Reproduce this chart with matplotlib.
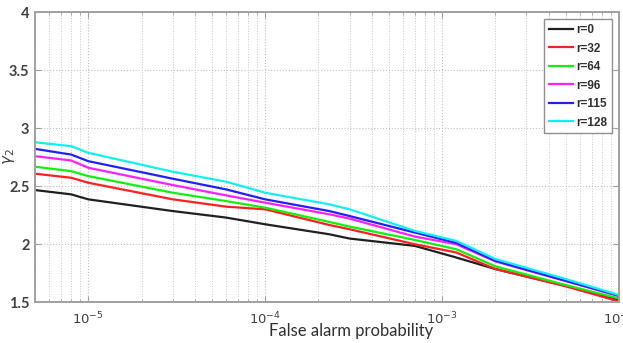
import matplotlib
matplotlib.use("Agg")
import matplotlib.pyplot as plt
from matplotlib.ticker import LogLocator, FixedLocator, NullFormatter

# False alarm probability (x) sample points
pfa = [5e-6, 8e-6, 1e-5, 3e-5, 6e-5, 1e-4, 2.3e-4, 3e-4, 7e-4, 1.2e-3, 2e-3, 5e-3, 1e-2]

r_labels = ["r=0", "r=32", "r=64", "r=96", "r=115", "r=128"]
r0   = [2.465, 2.428, 2.385, 2.284, 2.228, 2.170, 2.084, 2.047, 1.984, 1.884, 1.784, 1.640, 1.520]
r32  = [2.606, 2.571, 2.528, 2.385, 2.322, 2.299, 2.164, 2.127, 1.998, 1.927, 1.784, 1.635, 1.505]
r64  = [2.666, 2.628, 2.585, 2.442, 2.370, 2.313, 2.190, 2.150, 2.035, 1.955, 1.807, 1.646, 1.530]
r96  = [2.757, 2.720, 2.657, 2.508, 2.419, 2.356, 2.256, 2.219, 2.064, 1.998, 1.850, 1.680, 1.550]
r115 = [2.820, 2.771, 2.714, 2.563, 2.471, 2.385, 2.284, 2.241, 2.099, 2.010, 1.855, 1.683, 1.555]
r128 = [2.877, 2.843, 2.786, 2.623, 2.537, 2.442, 2.342, 2.299, 2.113, 2.027, 1.870, 1.698, 1.560]
series = [r0, r32, r64, r96, r115, r128]
colors = ["#202020", "#ff2020", "#10f010", "#ff20ff", "#2020ff", "#10f0f0"]

y_ticks = [1.5, 2, 2.5, 3, 3.5, 4]
y_ticklabels = ["1.5", "2", "2.5", "3", "3.5", "4"]

fig = plt.figure(figsize=(6.23, 3.43), dpi=100)
ax = fig.add_axes([35/623, 1 - 302/343, 584/623, 290/343])

for ys, c, lab in zip(series, colors, r_labels):
    ax.plot(pfa, ys, color=c, lw=1.6, label=lab)

ax.set_xscale("log")
ax.set_xlim(5e-6, 1e-2)
ax.set_ylim(1.5, 4)
ax.xaxis.set_major_locator(LogLocator(base=10, numticks=10))
ax.xaxis.set_minor_locator(LogLocator(base=10, subs=range(2, 10), numticks=20))
ax.xaxis.set_minor_formatter(NullFormatter())
ax.yaxis.set_major_locator(FixedLocator(y_ticks))
ax.set_yticklabels(y_ticklabels)

ax.grid(True, which="major", axis="both", ls=":", color="#c0c0c0", lw=0.8)
ax.grid(True, which="minor", axis="x", ls=":", color="#c8c8c8", lw=0.7)

for s in ax.spines.values():
    s.set_color("#a0a0a0")
    s.set_linewidth(1.4)

ax.tick_params(axis="both", which="both", direction="in", colors="#a0a0a0",
               top=True, right=True)
ax.tick_params(axis="both", which="major", length=4)
ax.tick_params(axis="both", which="minor", length=2.5)
ax.tick_params(axis="y", labelsize=10.5, labelcolor="#404040", pad=4)
ax.tick_params(axis="x", labelsize=9.5, labelcolor="#404040", pad=6)
for t in ax.get_yticklabels():
    t.set_fontfamily("Lato")
    t.set_fontweight("bold")

ax.set_xlabel("False alarm probability", fontsize=12, color="#303030", family="Lato")
ax.xaxis.set_label_coords(0.541, -0.10)
ax.xaxis.label.set_va("center")
ax.set_ylabel(r"$\gamma_2$", fontsize=11, color="#404040")
ax.yaxis.set_label_coords(-0.044, 0.5)
ax.yaxis.label.set_va("center")

leg = ax.legend(loc="upper right", bbox_to_anchor=(0.998, 0.995), fancybox=False,
                framealpha=1, edgecolor="#909090", handlelength=2.0, handletextpad=0.3,
                labelspacing=0.55, borderpad=0.4, prop={"weight": "bold", "size": 8.5,
                                                        "family": "Liberation Sans"})
leg.get_frame().set_linewidth(1.0)
for t in leg.get_texts():
    t.set_color("#303030")

fig.savefig("out.png", dpi=100)
